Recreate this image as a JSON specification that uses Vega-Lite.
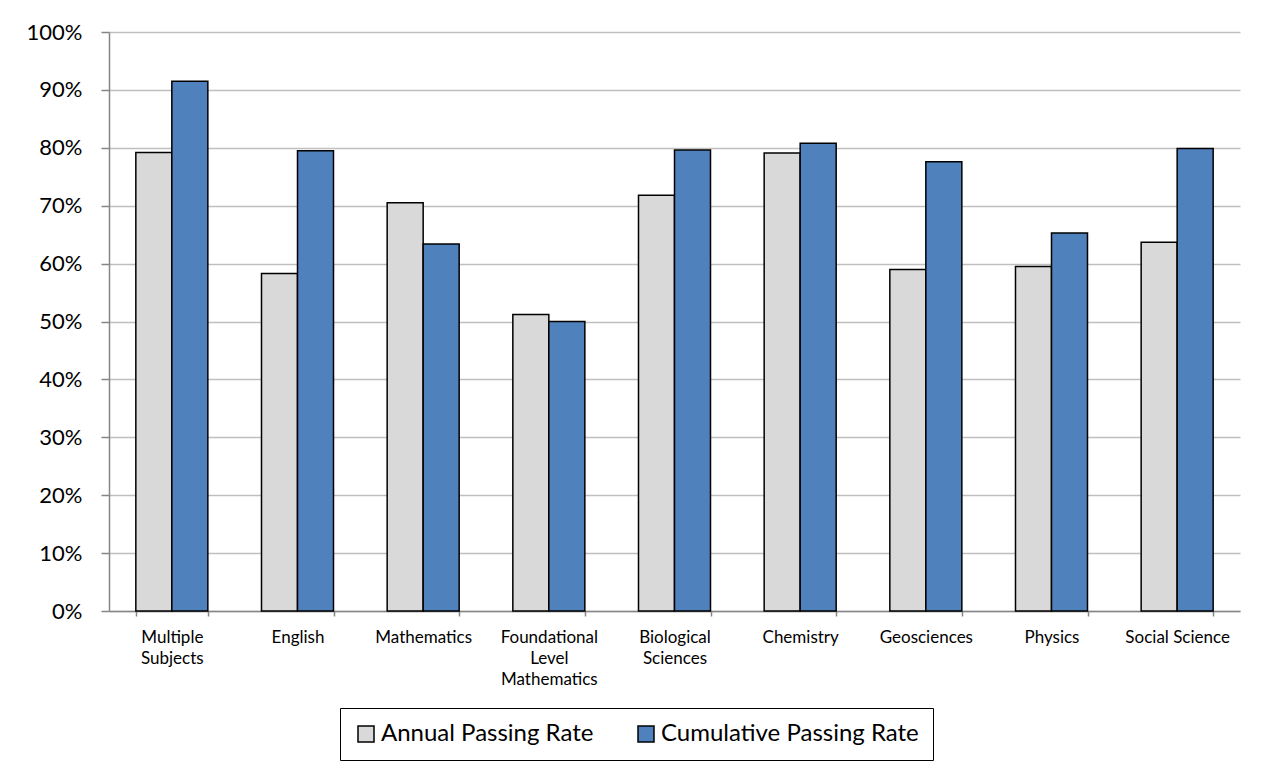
{
  "$schema": "https://vega.github.io/schema/vega-lite/v6.json",
  "width": 1131,
  "height": 579,
  "autosize": {"type": "none"},
  "padding": {"left": 109, "top": 32, "right": 26, "bottom": 158},
  "background": "white",
  "config": {
    "font": "Lato",
    "view": {"stroke": null},
    "axis": {"labelColor": "black", "labelFont": "Lato"}
  },
  "data": {
    "values": [
      {"subject": "Multiple Subjects", "series": "Annual Passing Rate", "rate": 0.792},
      {"subject": "Multiple Subjects", "series": "Cumulative Passing Rate", "rate": 0.915},
      {"subject": "English", "series": "Annual Passing Rate", "rate": 0.583},
      {"subject": "English", "series": "Cumulative Passing Rate", "rate": 0.795},
      {"subject": "Mathematics", "series": "Annual Passing Rate", "rate": 0.705},
      {"subject": "Mathematics", "series": "Cumulative Passing Rate", "rate": 0.634},
      {"subject": "Foundational Level Mathematics", "series": "Annual Passing Rate", "rate": 0.512},
      {"subject": "Foundational Level Mathematics", "series": "Cumulative Passing Rate", "rate": 0.500},
      {"subject": "Biological Sciences", "series": "Annual Passing Rate", "rate": 0.718},
      {"subject": "Biological Sciences", "series": "Cumulative Passing Rate", "rate": 0.796},
      {"subject": "Chemistry", "series": "Annual Passing Rate", "rate": 0.791},
      {"subject": "Chemistry", "series": "Cumulative Passing Rate", "rate": 0.808},
      {"subject": "Geosciences", "series": "Annual Passing Rate", "rate": 0.590},
      {"subject": "Geosciences", "series": "Cumulative Passing Rate", "rate": 0.776},
      {"subject": "Physics", "series": "Annual Passing Rate", "rate": 0.595},
      {"subject": "Physics", "series": "Cumulative Passing Rate", "rate": 0.653},
      {"subject": "Social Science", "series": "Annual Passing Rate", "rate": 0.637},
      {"subject": "Social Science", "series": "Cumulative Passing Rate", "rate": 0.799}
    ]
  },
  "mark": {"type": "bar", "stroke": "black", "strokeWidth": 1.5},
  "encoding": {
    "x": {
      "field": "subject",
      "type": "nominal",
      "sort": null,
      "scale": {"paddingInner": 0.427, "paddingOuter": 0.2135},
      "axis": {
        "title": null,
        "labelAngle": 0,
        "labelFontSize": 17,
        "labelLineHeight": 21,
        "labelBaseline": "top",
        "labelPadding": 13,
        "tickBand": "extent",
        "tickSize": 5,
        "tickColor": "#868686",
        "tickWidth": 1.5,
        "domainColor": "#868686",
        "domainWidth": 1.5,
        "grid": false,
        "labelExpr": "datum.label == 'Multiple Subjects' ? ['Multiple', 'Subjects'] : datum.label == 'Biological Sciences' ? ['Biological', 'Sciences'] : datum.label == 'Foundational Level Mathematics' ? ['Foundational', 'Level', 'Mathematics'] : datum.label"
      }
    },
    "xOffset": {
      "field": "series",
      "type": "nominal",
      "sort": ["Annual Passing Rate", "Cumulative Passing Rate"],
      "scale": {"paddingInner": 0, "paddingOuter": 0}
    },
    "y": {
      "field": "rate",
      "type": "quantitative",
      "scale": {"domain": [0, 1], "nice": false},
      "axis": {
        "title": null,
        "values": [0, 0.1, 0.2, 0.3, 0.4, 0.5, 0.6, 0.7, 0.8, 0.9, 1],
        "format": "%",
        "labelFontSize": 22,
        "labelPadding": 19,
        "tickSize": 8,
        "tickColor": "#868686",
        "tickWidth": 1.5,
        "domainColor": "#868686",
        "domainWidth": 1.5,
        "gridColor": "#bfbfbf",
        "gridWidth": 1.5
      }
    },
    "fill": {
      "field": "series",
      "type": "nominal",
      "sort": ["Annual Passing Rate", "Cumulative Passing Rate"],
      "scale": {"range": ["#d9d9d9", "#4f81bd"]},
      "legend": {
        "title": null,
        "orient": "none",
        "legendX": 231,
        "legendY": 676,
        "direction": "horizontal",
        "columns": 2,
        "symbolType": "square",
        "symbolSize": 256,
        "symbolStrokeColor": "black",
        "symbolStrokeWidth": 1.5,
        "labelFontSize": 24,
        "labelLimit": 500,
        "labelColor": "black",
        "labelOffset": 3,
        "columnPadding": 40,
        "padding": 14,
        "strokeColor": "black"
      }
    }
  }
}
